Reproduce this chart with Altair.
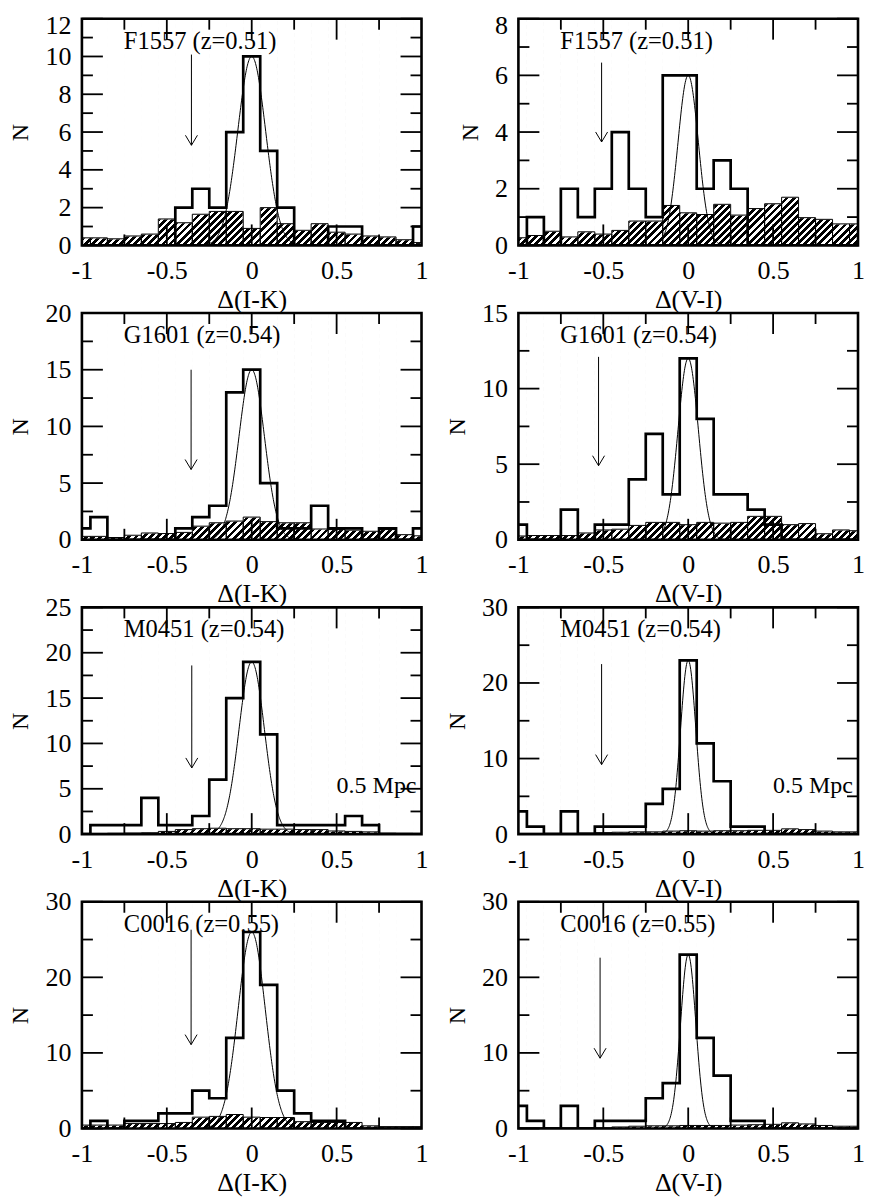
import altair as alt
import numpy as np
import pandas as pd

# ---------------- data ----------------
bin_centers = [-1.0, -0.9, -0.8, -0.7, -0.6, -0.5, -0.4, -0.3, -0.2, -0.1, 0.0,
               0.1, 0.2, 0.3, 0.4, 0.5, 0.6, 0.7, 0.8, 0.9, 1.0]

cluster_labels = ["F1557 (z=0.51)", "F1557 (z=0.51)",
                  "G1601 (z=0.54)", "G1601 (z=0.54)",
                  "M0451 (z=0.54)", "M0451 (z=0.54)",
                  "C0016 (z=0.55)", "C0016 (z=0.55)"]
x_titles = ["Δ(I-K)", "Δ(V-I)"] * 4
radius_labels = ["", "", "", "", "0.5 Mpc", "0.5 Mpc", "", ""]

# cluster (thick outline) histograms
main_F1557_IK = [0, 0, 0, 0, 0, 0, 2, 3, 2, 6, 10, 5, 2, 0, 0, 1, 1, 0, 0, 0, 1]
main_F1557_VI = [0, 1, 0, 2, 1, 2, 4, 2, 1, 6, 6, 2, 3, 2, 0, 0, 0, 0, 0, 0, 0]
main_G1601_IK = [1, 2, 0, 0, 0, 0, 1, 2, 3, 13, 15, 5, 1, 1, 3, 1, 1, 0, 1, 0, 1]
main_G1601_VI = [1, 0, 0, 2, 0, 1, 1, 4, 7, 3, 12, 8, 3, 3, 2, 1, 0, 0, 0, 0, 0]
main_M0451_IK = [0, 1, 1, 1, 4, 1, 1, 2, 6, 15, 19, 11, 1, 1, 1, 1, 2, 1, 0, 0, 0]
main_M0451_VI = [3, 1, 0, 3, 0, 1, 1, 1, 4, 6, 23, 12, 7, 1, 1, 0, 0, 0, 0, 0, 0]
main_C0016_IK = [0, 1, 0, 1, 1, 2, 2, 5, 4, 12, 26, 19, 5, 2, 1, 1, 0, 0, 0, 0, 0]
main_C0016_VI = [3, 1, 0, 3, 0, 1, 1, 1, 4, 6, 23, 12, 7, 1, 1, 0, 0, 0, 0, 0, 0]

# field (hatched) histograms
field_F1557_IK = [0.4, 0.4, 0.35, 0.5, 0.6, 1.4, 1.2, 1.65, 1.8, 1.8, 0.9, 2.0, 1.15, 0.8, 1.15, 0.7, 0.6, 0.5, 0.45, 0.3, 0.15]
field_F1557_VI = [0.27, 0.35, 0.5, 0.3, 0.48, 0.4, 0.53, 0.86, 0.86, 1.41, 1.15, 1.09, 1.45, 1.07, 1.3, 1.47, 1.7, 0.98, 0.92, 0.76, 0.76]
field_G1601_IK = [0.3, 0.3, 0.2, 0.4, 0.6, 0.55, 0.65, 1.2, 1.5, 1.65, 2.0, 1.6, 1.5, 1.5, 0.95, 0.9, 0.85, 0.75, 0.9, 0.45, 0.35]
field_G1601_VI = [0.25, 0.28, 0.28, 0.28, 0.45, 0.65, 0.7, 0.95, 1.15, 1.15, 1.0, 1.15, 1.1, 1.15, 1.55, 1.55, 1.0, 1.07, 0.4, 0.65, 0.6]
field_M0451_IK = [0.05, 0.08, 0.1, 0.12, 0.15, 0.3, 0.5, 0.6, 0.65, 0.6, 0.6, 0.55, 0.55, 0.5, 0.5, 0.35, 0.3, 0.25, 0.1, 0.08, 0.05]
field_M0451_VI = [0.1, 0.1, 0.1, 0.12, 0.15, 0.2, 0.25, 0.3, 0.3, 0.4, 0.45, 0.4, 0.45, 0.45, 0.5, 0.5, 0.7, 0.6, 0.4, 0.3, 0.3]
field_C0016_IK = [0.45, 0.45, 0.45, 0.65, 0.65, 0.65, 0.8, 1.5, 1.6, 1.85, 1.5, 1.45, 1.45, 0.9, 0.8, 0.8, 0.8, 0.35, 0.25, 0.25, 0.25]
field_C0016_VI = [0.1, 0.1, 0.1, 0.1, 0.1, 0.1, 0.2, 0.3, 0.35, 0.35, 0.4, 0.4, 0.4, 0.45, 0.5, 0.55, 0.75, 0.6, 0.4, 0.3, 0.3]

main_hists = [main_F1557_IK, main_F1557_VI, main_G1601_IK, main_G1601_VI,
              main_M0451_IK, main_M0451_VI, main_C0016_IK, main_C0016_VI]
field_hists = [field_F1557_IK, field_F1557_VI, field_G1601_IK, field_G1601_VI,
               field_M0451_IK, field_M0451_VI, field_C0016_IK, field_C0016_VI]

# gaussian fits (amplitude, centre, sigma)
gauss_amp = [10, 6, 15, 12, 19, 23, 26, 23]
gauss_mu = [0.0, 0.0, 0.0, 0.0, 0.0, 0.0, 0.0, 0.0]
gauss_sigma = [0.082, 0.06, 0.075, 0.06, 0.075, 0.045, 0.08, 0.045]

# arrows
arrow_x = [-0.355, -0.51, -0.357, -0.528, -0.353, -0.51, -0.357, -0.519]
arrow_top = [10.1, 6.45, 15.0, 12.1, 18.6, 22.5, 26.3, 22.6]
arrow_bot = [5.3, 3.65, 6.2, 4.9, 7.3, 9.2, 11.1, 9.3]

# y axis ranges
y_max = [12, 8, 20, 15, 25, 30, 30, 30]
y_major = [2, 2, 5, 5, 5, 10, 10, 10]
y_minor = [1, 1, 2.5, 2.5, 2.5, 5, 5, 5]

x_major_ticks = [-1, -0.5, 0, 0.5, 1]
x_inner_major = [-0.5, 0, 0.5]
x_inner_minor = [-0.75, -0.25, 0.25, 0.75]

# ---------------- styling ----------------
FONT = "Liberation Serif"
W, H = 340, 227
MAJ, MIN = 21, 11

# diagonal hatch made of a hard-stop linear gradient (45 degrees in pixels)
n_periods = 80
duty = 0.55
stops = []
for k in range(n_periods):
    a = k / n_periods
    b = (k + duty) / n_periods
    c = (k + 1) / n_periods
    stops += [alt.GradientStop(offset=a, color="black"), alt.GradientStop(offset=b, color="black"),
              alt.GradientStop(offset=b, color="white"), alt.GradientStop(offset=c, color="white")]
r = H / W
hatch_grad = alt.LinearGradient(gradient="linear", stops=stops,
                                x1=0, y1=0,
                                x2=(1 + r) / (1 + r ** 2),
                                y2=r * (1 + r) / (1 + r ** 2))


def make_panel(i, top_row):
    ymax = y_max[i]
    xs = alt.Scale(domain=[-1, 1], nice=False, zero=False)
    ys = alt.Scale(domain=[0, ymax], nice=False, zero=False)
    yvals = [v * y_major[i] for v in range(int(round(ymax / y_major[i])) + 1)]
    xaxis = alt.Axis(values=x_major_ticks, labelExpr="toString(datum.value)", title=x_titles[i],
                     domain=False, ticks=False, tickSize=0, grid=False, labelFlush=False,
                     labelOverlap=False, labelPadding=12, titlePadding=3,
                     labelFont=FONT, labelFontSize=26, labelColor="black",
                     titleFont=FONT, titleFontSize=26, titleFontWeight="normal", titleColor="black")
    ykw = {}
    if top_row:
        # nudge the topmost label down a little so it stays inside the page
        ykw["labelOffset"] = {"condition": {"test": f"datum.value == {ymax}", "value": 7}, "value": 0}
    yaxis = alt.Axis(values=yvals, labelExpr="toString(datum.value)", title="N",
                     domain=False, ticks=False, tickSize=0, grid=False, labelFlush=False,
                     labelOverlap=False, labelPadding=11, titlePadding=12,
                     labelFont=FONT, labelFontSize=26, labelColor="black",
                     titleFont=FONT, titleFontSize=24, titleFontWeight="normal", titleColor="black",
                     **ykw)

    def X(f):
        return alt.X(f, type="quantitative", scale=xs, axis=xaxis)

    def Y(f):
        return alt.Y(f, type="quantitative", scale=ys, axis=yaxis)

    lo = [max(c - 0.05, -1.0) for c in bin_centers]
    hi = [min(c + 0.05, 1.0) for c in bin_centers]
    hdf = pd.DataFrame({"lo": lo, "hi": hi, "h": field_hists[i], "top": ymax, "zero": 0.0})

    counts = main_hists[i]
    sx = [-1.0] + [c - 0.05 for c in bin_centers[1:]] + [1.0]
    sy = list(counts) + [counts[-1]]
    mdf = pd.DataFrame({"x": sx, "n": sy, "k": list(range(len(sx)))})

    gx = np.linspace(-0.35, 0.35, 281)
    gy = gauss_amp[i] * np.exp(-0.5 * ((gx - gauss_mu[i]) / gauss_sigma[i]) ** 2)
    gdf = pd.DataFrame({"x": gx, "y": gy})

    adf = pd.DataFrame({"x": [arrow_x[i]], "y1": [arrow_top[i]], "y2": [arrow_bot[i]]})
    one = pd.DataFrame({"a": [0]})

    stripes = alt.Chart(one).mark_rect(fill=hatch_grad, strokeWidth=0).encode(
        x=alt.value(0), x2=alt.value(W), y=alt.value(0), y2=alt.value(H))
    mask = alt.Chart(hdf).mark_rect(fill="white", stroke="white", strokeWidth=1).encode(
        x=X("lo"), x2=alt.X2("hi"), y=Y("h"), y2=alt.Y2("top"))
    outline = alt.Chart(hdf).mark_rect(fillOpacity=0, stroke="black", strokeWidth=1).encode(
        x=X("lo"), x2=alt.X2("hi"), y=Y("h"), y2=alt.Y2("zero"))
    gauss = alt.Chart(gdf).mark_line(color="black", strokeWidth=1, clip=True).encode(
        x=X("x"), y=Y("y"))
    main = alt.Chart(mdf).mark_line(interpolate="step-after", color="black", strokeWidth=2.7,
                                    strokeJoin="miter", clip=True).encode(
        x=X("x"), y=Y("n"), order="k:Q")
    arrow = alt.Chart(adf).mark_rule(color="black", strokeWidth=1).encode(
        x=X("x"), y=Y("y1"), y2=alt.Y2("y2"))
    head = alt.Chart(adf).mark_point(shape="M-0.6,-1L0,0L0.6,-1", filled=False, size=400,
                                     color="black", strokeWidth=1, opacity=1).encode(
        x=X("x"), y=Y("y2"))

    xmaj = pd.DataFrame({"v": x_inner_major})
    xmin = pd.DataFrame({"v": x_inner_minor})
    ymaj = pd.DataFrame({"v": yvals})
    ymin = pd.DataFrame({"v": [y_minor[i] * (2 * k + 1) for k in range(int(round(ymax / y_major[i])))]})
    tk = dict(color="black", strokeWidth=1.8)
    ticks = [
        alt.Chart(xmaj).mark_rule(**tk).encode(x=X("v"), y=alt.value(H), y2=alt.value(H - MAJ)),
        alt.Chart(xmaj).mark_rule(**tk).encode(x=X("v"), y=alt.value(0), y2=alt.value(MAJ)),
        alt.Chart(xmin).mark_rule(**tk).encode(x=X("v"), y=alt.value(H), y2=alt.value(H - MIN)),
        alt.Chart(xmin).mark_rule(**tk).encode(x=X("v"), y=alt.value(0), y2=alt.value(MIN)),
        alt.Chart(ymaj).mark_rule(**tk).encode(y=Y("v"), x=alt.value(0), x2=alt.value(MAJ)),
        alt.Chart(ymaj).mark_rule(**tk).encode(y=Y("v"), x=alt.value(W - MAJ), x2=alt.value(W)),
        alt.Chart(ymin).mark_rule(**tk).encode(y=Y("v"), x=alt.value(0), x2=alt.value(MIN)),
        alt.Chart(ymin).mark_rule(**tk).encode(y=Y("v"), x=alt.value(W - MIN), x2=alt.value(W)),
    ]

    label = alt.Chart(pd.DataFrame({"t": [cluster_labels[i]]})).mark_text(
        align="left", baseline="alphabetic", font=FONT, fontSize=24.5, color="black").encode(
        x=alt.value(42), y=alt.value(30), text="t:N")
    layers = [stripes, mask, outline, gauss, main, arrow, head] + ticks + [label]
    if radius_labels[i]:
        rl = alt.Chart(pd.DataFrame({"t": [radius_labels[i]]})).mark_text(
            align="left", baseline="alphabetic", font=FONT, fontSize=24, color="black").encode(
            x=alt.value(255), y=alt.value(186), text="t:N")
        layers.append(rl)
    frame = alt.Chart(one).mark_rect(fillOpacity=0, stroke="black", strokeWidth=2.6).encode(
        x=alt.value(0), x2=alt.value(W), y=alt.value(0), y2=alt.value(H))
    layers.append(frame)
    return alt.layer(*layers).properties(width=W, height=H)


panels = [make_panel(i, i < 2) for i in range(8)]
chart = alt.concat(*panels, columns=2, spacing={"row": 67.7, "column": 97}, bounds="flush",
                   padding={"top": 3, "left": 0, "right": 0, "bottom": 0},
                   background="white").configure_view(stroke="transparent")

chart.save("out.html", embed_options={"renderer": "svg", "actions": False})
